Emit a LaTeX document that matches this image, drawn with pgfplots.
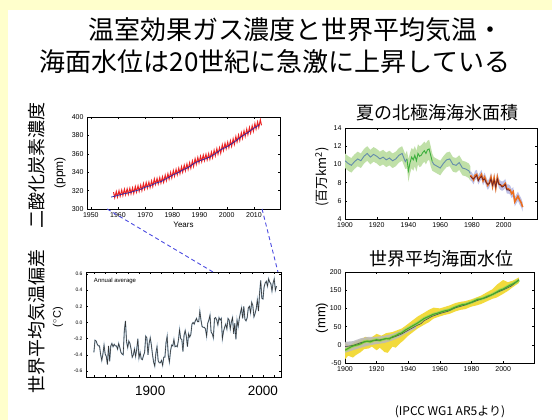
\documentclass[border=0pt]{standalone}
\usepackage{fontspec}
\setmainfont{Liberation Sans}
\newfontfamily\cjk{Noto Sans CJK JP}
\usepackage{pgfplots}
\pgfplotsset{compat=1.18}
\definecolor{bgy}{RGB}{255,255,204}
\definecolor{co2red}{RGB}{235,35,35}
\definecolor{co2blue}{RGB}{40,40,170}
\definecolor{dashblue}{RGB}{75,75,225}
\definecolor{icegreenband}{RGB}{192,224,168}
\definecolor{iceline}{RGB}{100,140,172}
\definecolor{icegreen}{RGB}{60,175,60}
\definecolor{iceorange}{RGB}{235,110,30}
\definecolor{icedark}{RGB}{110,35,40}
\definecolor{icelav}{RGB}{190,192,230}
\definecolor{slyellow}{RGB}{242,218,60}
\definecolor{slgray}{RGB}{185,185,190}
\definecolor{slgreen}{RGB}{70,168,40}
\definecolor{sllime}{RGB}{165,212,90}
\definecolor{sldark}{RGB}{75,75,85}
\definecolor{tblue}{RGB}{165,190,210}
\pgfplotsset{panel/.style={scale only axis, anchor=south west,
  axis line style={line width=0.4pt},
  tick align=inside, major tick length=2pt, minor tick length=1.5pt,
  every tick/.style={line width=0.3pt, black},
  tick label style={font=\fontsize{7}{8}\selectfont},
  /pgf/number format/assume math mode=true,
  /pgf/number format/set thousands separator={},
  clip=true}}
\begin{document}
\begin{tikzpicture}[x=1pt,y=1pt]
\useasboundingbox (0pt,0pt) rectangle (552pt,420pt);
\fill[bgy] (0pt,0pt) rectangle (552pt,420pt);
\fill[white] (8pt,0pt) rectangle (552pt,410pt);
% titles
\node[font=\cjk\fontsize{26}{30}\selectfont] at (296pt,390pt) {温室効果ガス濃度と世界平均気温・};
\node[font=\cjk\fontsize{26}{30}\selectfont] at (275pt,358pt) {海面水位は20世紀に急激に上昇している};
% left labels
\node[rotate=90, font=\cjk\fontsize{18}{20}\selectfont] at (37pt,254pt) {二酸化炭素濃度};
\node[rotate=90, font=\fontsize{12}{14}\selectfont] at (60pt,247pt) {(ppm)};
\node[rotate=90, font=\cjk\fontsize{18}{20}\selectfont] at (37pt,98pt) {世界平均気温偏差};
\node[rotate=90, font=\fontsize{11}{13}\selectfont] at (58pt,103pt) {($^{\circ}$C)};
% right labels
\node[font=\cjk\fontsize{18}{20}\selectfont] at (437pt,307pt) {夏の北極海海氷面積};
\node[rotate=90, font=\cjk\fontsize{13}{15}\selectfont] at (322pt,243pt) {(百万km\textsuperscript{2})};
\node[font=\cjk\fontsize{18}{20}\selectfont] at (441pt,161pt) {世界平均海面水位};
\node[rotate=90, font=\fontsize{13}{15}\selectfont] at (322pt,102pt) {(mm)};
\node[anchor=south, inner sep=0pt, font=\cjk\fontsize{12}{14}\selectfont] at (450pt,1.5pt) {(IPCC WG1 AR5より)};

% ---------- CO2 ----------
\begin{axis}[panel, at={(87pt,211pt)}, width=193pt, height=92pt,
  xmin=1948.6, xmax=2019.6, ymin=300, ymax=400,
  xtick={1950,1960,1970,1980,1990,2000,2010}, ytick={300,320,340,360,380,400},
  xlabel={Years}, xlabel style={font=\fontsize{8}{9}\selectfont, yshift=2pt}]
\addplot[co2red, line width=1.0pt] coordinates {
(1958.37,318.3)(1958.80,312.3)(1959.37,319.0)(1959.80,313.0)(1960.37,319.9)(1960.80,313.9)
(1961.37,320.6)(1961.80,314.6)(1962.37,321.5)(1962.80,315.5)(1963.37,322.0)(1963.80,316.0)
(1964.37,322.6)(1964.80,316.6)(1965.37,323.0)(1965.80,317.0)(1966.37,324.4)(1966.80,318.4)
(1967.37,325.2)(1967.80,319.2)(1968.37,326.0)(1968.80,320.0)(1969.37,327.6)(1969.80,321.6)
(1970.37,328.7)(1970.80,322.7)(1971.37,329.3)(1971.80,323.3)(1972.37,330.5)(1972.80,324.5)
(1973.37,332.7)(1973.80,326.7)(1974.37,333.2)(1974.80,327.2)(1975.37,334.1)(1975.80,328.1)
(1976.37,335.0)(1976.80,329.0)(1977.37,336.8)(1977.80,330.8)(1978.37,338.4)(1978.80,332.4)
(1979.37,339.8)(1979.80,333.8)(1980.37,341.7)(1980.80,335.7)(1981.37,343.1)(1981.80,337.1)
(1982.37,344.4)(1982.80,338.4)(1983.37,346.0)(1983.80,340.0)(1984.37,347.6)(1984.80,341.6)
(1985.37,349.0)(1985.80,343.0)(1986.37,350.4)(1986.80,344.4)(1987.37,352.2)(1987.80,346.2)
(1988.37,354.6)(1988.80,348.6)(1989.37,356.1)(1989.80,350.1)(1990.37,357.4)(1990.80,351.4)
(1991.37,358.6)(1991.80,352.6)(1992.37,359.4)(1992.80,353.4)(1993.37,360.1)(1993.80,354.1)
(1994.37,361.8)(1994.80,355.8)(1995.37,363.8)(1995.80,357.8)(1996.37,365.6)(1996.80,359.6)
(1997.37,366.7)(1997.80,360.7)(1998.37,369.7)(1998.80,363.7)(1999.37,371.4)(1999.80,365.4)
(2000.37,372.6)(2000.80,366.6)(2001.37,374.1)(2001.80,368.1)(2002.37,376.2)(2002.80,370.2)
(2003.37,378.8)(2003.80,372.8)(2004.37,380.5)(2004.80,374.5)(2005.37,382.8)(2005.80,376.8)
(2006.37,384.9)(2006.80,378.9)(2007.37,386.8)(2007.80,380.8)(2008.37,388.6)(2008.80,382.6)
(2009.37,390.4)(2009.80,384.4)(2010.37,392.9)(2010.80,386.9)(2011.37,394.6)(2011.80,388.6)
(2012.37,396.9)(2012.80,390.9)};
\addplot[co2blue, line width=0.7pt] coordinates {
(1957.5,313.0)(1959,314.0)(1960,314.9)(1962,316.5)(1964,317.6)(1966,319.4)(1968,321.0)
(1970,323.7)(1972,325.5)(1974,328.2)(1976,330.0)(1978,333.4)(1980,336.7)(1982,339.4)
(1984,342.6)(1986,345.4)(1988,349.6)(1990,352.4)(1992,354.4)(1994,356.8)(1996,360.6)
(1998,364.7)(2000,367.6)(2002,371.2)(2004,375.5)(2006,379.9)(2008,383.6)(2010,387.9)
(2011,389.6)(2012,391.6)};
\coordinate (a1) at (axis cs:1956,300);
\coordinate (a2) at (axis cs:2013,300);
\end{axis}

% ---------- Temperature ----------
\begin{axis}[panel, at={(86pt,43pt)}, width=195pt, height=105pt,
  xmin=1843, xmax=2016, ymin=-0.675, ymax=0.625,
  xtick={1900,2000}, minor xtick={1850,1860,...,2010},
  ytick={-0.6,-0.4,-0.2,0,0.2,0.4,0.6},
  xticklabel style={font=\fontsize{13.5}{15}\selectfont, yshift=-6pt},
  yticklabel style={font=\fontsize{5}{6}\selectfont,
    /pgf/number format/.cd, fixed, fixed zerofill, precision=1}]
\pgfplotstableread{
x y
1850 -0.37
1851 -0.22
1852 -0.23
1853 -0.27
1854 -0.29
1855 -0.29
1856 -0.40
1857 -0.47
1858 -0.39
1859 -0.28
1860 -0.39
1861 -0.42
1862 -0.52
1863 -0.29
1864 -0.48
1865 -0.29
1866 -0.26
1867 -0.30
1868 -0.27
1869 -0.29
1870 -0.29
1871 -0.33
1872 -0.26
1873 -0.31
1874 -0.37
1875 -0.39
1876 -0.40
1877 -0.10
1878 0.02
1879 -0.24
1880 -0.31
1881 -0.23
1882 -0.26
1883 -0.33
1884 -0.43
1885 -0.40
1886 -0.33
1887 -0.42
1888 -0.33
1889 -0.20
1890 -0.44
1891 -0.37
1892 -0.45
1893 -0.46
1894 -0.41
1895 -0.37
1896 -0.17
1897 -0.19
1898 -0.40
1899 -0.26
1900 -0.19
1901 -0.28
1902 -0.40
1903 -0.49
1904 -0.54
1905 -0.38
1906 -0.30
1907 -0.47
1908 -0.50
1909 -0.50
1910 -0.47
1911 -0.53
1912 -0.43
1913 -0.43
1914 -0.25
1915 -0.17
1916 -0.41
1917 -0.49
1918 -0.35
1919 -0.28
1920 -0.29
1921 -0.21
1922 -0.30
1923 -0.29
1924 -0.30
1925 -0.22
1926 -0.09
1927 -0.20
1928 -0.21
1929 -0.36
1930 -0.16
1931 -0.10
1932 -0.17
1933 -0.30
1934 -0.14
1935 -0.18
1936 -0.15
1937 -0.02
1938 0.00
1939 -0.02
1940 0.02
1941 0.05
1942 0.01
1943 0.01
1944 0.14
1945 0.03
1946 -0.05
1947 -0.06
1948 -0.06
1949 -0.08
1950 -0.17
1951 -0.01
1952 0.03
1953 0.09
1954 -0.12
1955 -0.14
1956 -0.19
1957 0.05
1958 0.06
1959 0.03
1960 -0.03
1961 0.06
1962 0.03
1963 0.05
1964 -0.20
1965 -0.11
1966 -0.06
1967 -0.02
1968 -0.08
1969 0.05
1970 0.03
1971 -0.08
1972 0.01
1973 0.06
1974 -0.14
1975 -0.01
1976 -0.21
1977 0.03
1978 -0.05
1979 0.05
1980 0.12
1981 0.18
1982 0.05
1983 0.20
1984 0.04
1985 0.02
1986 0.06
1987 0.18
1988 0.20
1989 0.12
1990 0.25
1991 0.21
1992 0.07
1993 0.11
1994 0.17
1995 0.28
1996 0.14
1997 0.36
1998 0.52
1999 0.30
2000 0.29
2001 0.44
2002 0.49
2003 0.51
2004 0.45
2005 0.54
2006 0.50
2007 0.48
2008 0.39
2009 0.49
2010 0.54
2011 0.40
2012 0.45
}\temptable
\addplot[tblue, line width=1.2pt] table[x=x,y=y] {\temptable};
\addplot[black!80, line width=0.55pt] table[x=x,y=y] {\temptable};
\node[anchor=west, inner sep=0pt, font=\fontsize{6}{7}\selectfont] at (rel axis cs:0.04,0.915) {Annual average};
\coordinate (b1) at (axis cs:1955.7,0.625);
\coordinate (b2) at (axis cs:2013.3,0.625);
\end{axis}

\draw[dashblue, line width=0.9pt, dash pattern=on 4pt off 3pt] (a1) -- (b1) (a2) -- (b2);

% ---------- Sea ice ----------
\begin{axis}[panel, at={(345pt,201pt)}, width=192pt, height=91pt,
  xmin=1900, xmax=2021, ymin=4, ymax=14,
  xtick={1900,1920,1940,1960,1980,2000}, ytick={4,6,8,10,12,14}]
\addplot[fill=icegreenband, draw=none] coordinates {
(1900,11.2)(1902,10.9)(1904,10.7)(1906,11.1)(1908,11.4)(1910,11.2)(1912,11.7)(1914,12.0)
(1916,11.6)(1918,11.9)(1920,11.7)(1922,11.4)(1924,11.6)(1926,11.3)(1928,11.5)(1930,11.2)
(1932,11.4)(1934,11.8)(1936,12.0)(1938,11.1)(1939,11.5)(1940,10.6)(1941,11.3)(1942,11.8)
(1943,11.6)(1944,12.0)(1945,11.5)(1946,12.2)(1947,12.0)(1948,12.1)(1949,12.3)(1950,12.5)
(1951,12.3)(1952,12.6)(1953,12.7)(1954,12.0)(1955,11.2)(1956,10.8)(1958,10.6)(1960,10.4)
(1962,10.9)(1964,11.3)(1966,11.4)(1968,10.8)(1970,10.7)(1972,11.0)(1974,10.4)(1976,10.3)
(1978,10.1)(1979,9.8)
(1979,8.2)(1978,8.5)(1976,8.7)(1974,8.8)(1972,9.4)(1970,9.1)(1968,9.2)(1966,9.8)(1964,9.7)
(1962,9.3)(1960,8.8)(1958,9.0)(1956,9.2)(1955,9.3)(1954,9.8)(1953,10.5)(1952,10.4)(1951,10.0)
(1950,10.3)(1949,10.1)(1948,9.8)(1947,9.7)(1946,10.0)(1945,9.2)(1944,9.8)(1943,9.3)(1942,9.6)
(1941,9.0)(1940,8.1)(1939,9.6)(1938,9.5)(1936,10.4)(1934,10.2)(1932,9.8)(1930,9.6)(1928,9.9)
(1926,9.7)(1924,10.0)(1922,9.8)(1920,10.1)(1918,10.3)(1916,10.0)(1914,10.4)(1912,10.1)
(1910,9.6)(1908,9.8)(1906,9.5)(1904,9.1)(1902,9.3)(1900,9.6)};
\addplot[fill=icelav, draw=none] coordinates {
(1979,9.3)(1980,9.1)(1981,8.8)(1982,9.3)(1983,9.4)(1984,8.8)(1985,9.1)(1986,9.4)(1987,8.7)
(1988,9.1)(1989,8.6)(1990,8.2)(1991,8.5)(1992,9.1)(1993,8.1)(1994,9.0)(1995,7.9)(1996,9.1)
(1997,8.4)(1998,8.2)(1999,8.1)(2000,8.2)(2001,8.4)(2002,7.8)(2003,7.8)(2004,7.7)(2005,7.3)
(2006,7.5)(2007,6.4)(2008,6.7)(2009,7.0)(2010,6.6)(2011,6.3)(2012,5.8)
(2012,4.8)(2011,5.3)(2010,5.6)(2009,6.0)(2008,5.7)(2007,5.4)(2006,6.5)(2005,6.3)(2004,6.7)
(2003,6.8)(2002,6.8)(2001,7.4)(2000,7.2)(1999,7.1)(1998,7.2)(1997,7.4)(1996,8.1)(1995,6.9)
(1994,8.0)(1993,7.1)(1992,8.1)(1991,7.5)(1990,7.2)(1989,7.6)(1988,8.1)(1987,7.7)(1986,8.4)
(1985,8.1)(1984,7.8)(1983,8.4)(1982,8.3)(1981,7.8)(1980,8.1)(1979,8.3)};
\addplot[iceline, line width=0.9pt] coordinates {
(1900,10.4)(1902,10.1)(1904,9.9)(1906,10.3)(1908,10.6)(1910,10.4)(1912,10.9)(1914,11.2)
(1916,10.8)(1918,11.1)(1920,10.9)(1922,10.6)(1924,10.8)(1926,10.5)(1928,10.7)(1930,10.4)
(1932,10.6)(1934,11.0)(1936,11.2)(1938,10.3)(1939,10.6)};
\addplot[icegreen, line width=0.9pt] coordinates {
(1939,10.6)(1940,9.3)(1941,10.2)(1942,10.8)(1943,10.5)(1944,11.0)(1945,10.4)(1946,11.2)
(1947,10.9)(1948,11.0)(1949,11.3)(1950,11.5)(1951,11.2)(1952,11.6)(1953,11.7)(1954,11.0)
(1955,10.3)};
\addplot[iceline, line width=0.9pt] coordinates {
(1955,10.3)(1956,10.0)(1958,9.8)(1960,9.6)(1962,10.1)(1964,10.5)(1966,10.6)(1968,10.0)
(1970,9.9)(1972,10.2)(1974,9.6)(1976,9.5)(1978,9.3)(1979,9.0)};
\addplot[iceorange, line width=1.6pt] coordinates {
(1979,8.8)(1980,8.6)(1981,8.3)(1982,8.8)(1983,8.9)(1984,8.3)(1985,8.6)(1986,8.9)(1987,8.2)
(1988,8.6)(1989,8.1)(1990,7.7)(1991,8.0)(1992,8.6)(1993,7.6)(1994,8.5)(1995,7.4)(1996,8.6)
(1997,7.9)(1998,7.7)(1999,7.6)(2000,7.7)(2001,7.9)(2002,7.3)(2003,7.3)(2004,7.2)(2005,6.8)
(2006,7.0)(2007,5.9)(2008,6.2)(2009,6.5)(2010,6.1)(2011,5.8)(2012,5.3)};
\addplot[icedark, line width=0.8pt] coordinates {
(1979,8.7)(1980,8.5)(1981,8.4)(1982,8.6)(1983,8.8)(1984,8.2)(1985,8.5)(1986,8.7)(1987,8.3)
(1988,8.4)(1989,8.0)(1990,7.8)(1991,7.9)(1992,8.4)(1993,7.7)(1994,8.3)(1995,7.5)(1996,8.4)
(1997,7.8)(1998,7.8)(1999,7.5)(2000,7.6)(2001,7.8)(2002,7.2)(2003,7.2)(2004,7.1)};
\end{axis}

% ---------- Sea level ----------
\begin{axis}[panel, at={(345pt,57pt)}, width=189pt, height=91pt,
  xmin=1900, xmax=2019.5, ymin=-50, ymax=200,
  xtick={1900,1920,1940,1960,1980,2000}, ytick={-50,0,50,100,150,200}]
\addplot[fill=slyellow, draw=none] coordinates {
(1900,5)(1903,-2)(1906,8)(1910,15)(1913,22)(1916,18)(1920,30)(1923,25)(1926,32)(1930,35)
(1933,40)(1936,45)(1940,58)(1943,68)(1946,78)(1950,88)(1953,96)(1956,102)(1960,100)
(1963,104)(1966,108)(1970,115)(1973,118)(1976,120)(1980,125)(1983,130)(1986,135)(1990,145)
(1993,152)(1996,165)(2000,178)(2003,172)(2006,176)(2010,185)
(2010,170)(2006,158)(2003,148)(2000,140)(1996,130)(1993,126)(1990,120)(1986,112)(1983,108)
(1980,105)(1976,98)(1973,96)(1970,92)(1966,85)(1963,82)(1960,78)(1956,72)(1953,62)(1950,55)
(1946,45)(1943,35)(1940,25)(1937,12)(1935,5)(1932,-8)(1930,-5)(1927,-22)(1925,-20)(1922,-8)
(1920,-15)(1917,-5)(1915,-10)(1912,-12)(1910,-20)(1907,-28)(1905,-35)(1902,-30)(1900,-40)};
\addplot[fill=slgray, draw=none, fill opacity=0.85] coordinates {
(1900,8)(1905,10)(1910,18)(1915,22)(1920,22)(1925,25)(1930,30)(1935,38)(1940,50)(1945,62)
(1945,45)(1940,35)(1935,22)(1930,12)(1925,5)(1920,2)(1915,-2)(1910,-8)(1905,-15)(1900,-22)};
\pgfplotstableread{
x y
1900 -15
1902 -10
1904 -5
1906 -2
1908 0
1910 3
1912 8
1914 10
1916 8
1918 12
1920 14
1922 12
1924 15
1926 17
1928 16
1930 22
1932 25
1934 30
1936 33
1938 40
1940 45
1942 50
1944 55
1946 60
1948 66
1950 72
1952 76
1954 80
1956 84
1958 86
1960 89
1962 92
1964 94
1966 96
1968 100
1970 104
1972 107
1974 110
1976 111
1978 114
1980 117
1982 121
1984 125
1986 126
1988 129
1990 133
1992 136
1994 140
1996 145
1998 150
2000 153
2002 158
2004 163
2006 167
2008 172
2010 178
}\sltable
\addplot[sllime, line width=3pt] table[x=x,y=y] {\sltable};
\addplot[sldark, line width=0.6pt] coordinates {
(1900,-5)(1905,-2)(1910,6)(1915,10)(1920,12)(1925,16)(1930,20)(1935,28)(1940,40)(1945,52)
(1948,58)(1950,66)(1955,78)(1960,86)(1965,92)(1970,102)(1975,108)(1980,116)(1985,124)
(1990,131)(1995,142)(2000,151)(2005,161)(2010,179)};
\addplot[slgreen, line width=1.1pt] table[x=x,y=y] {\sltable};
\end{axis}
\end{tikzpicture}
\end{document}
